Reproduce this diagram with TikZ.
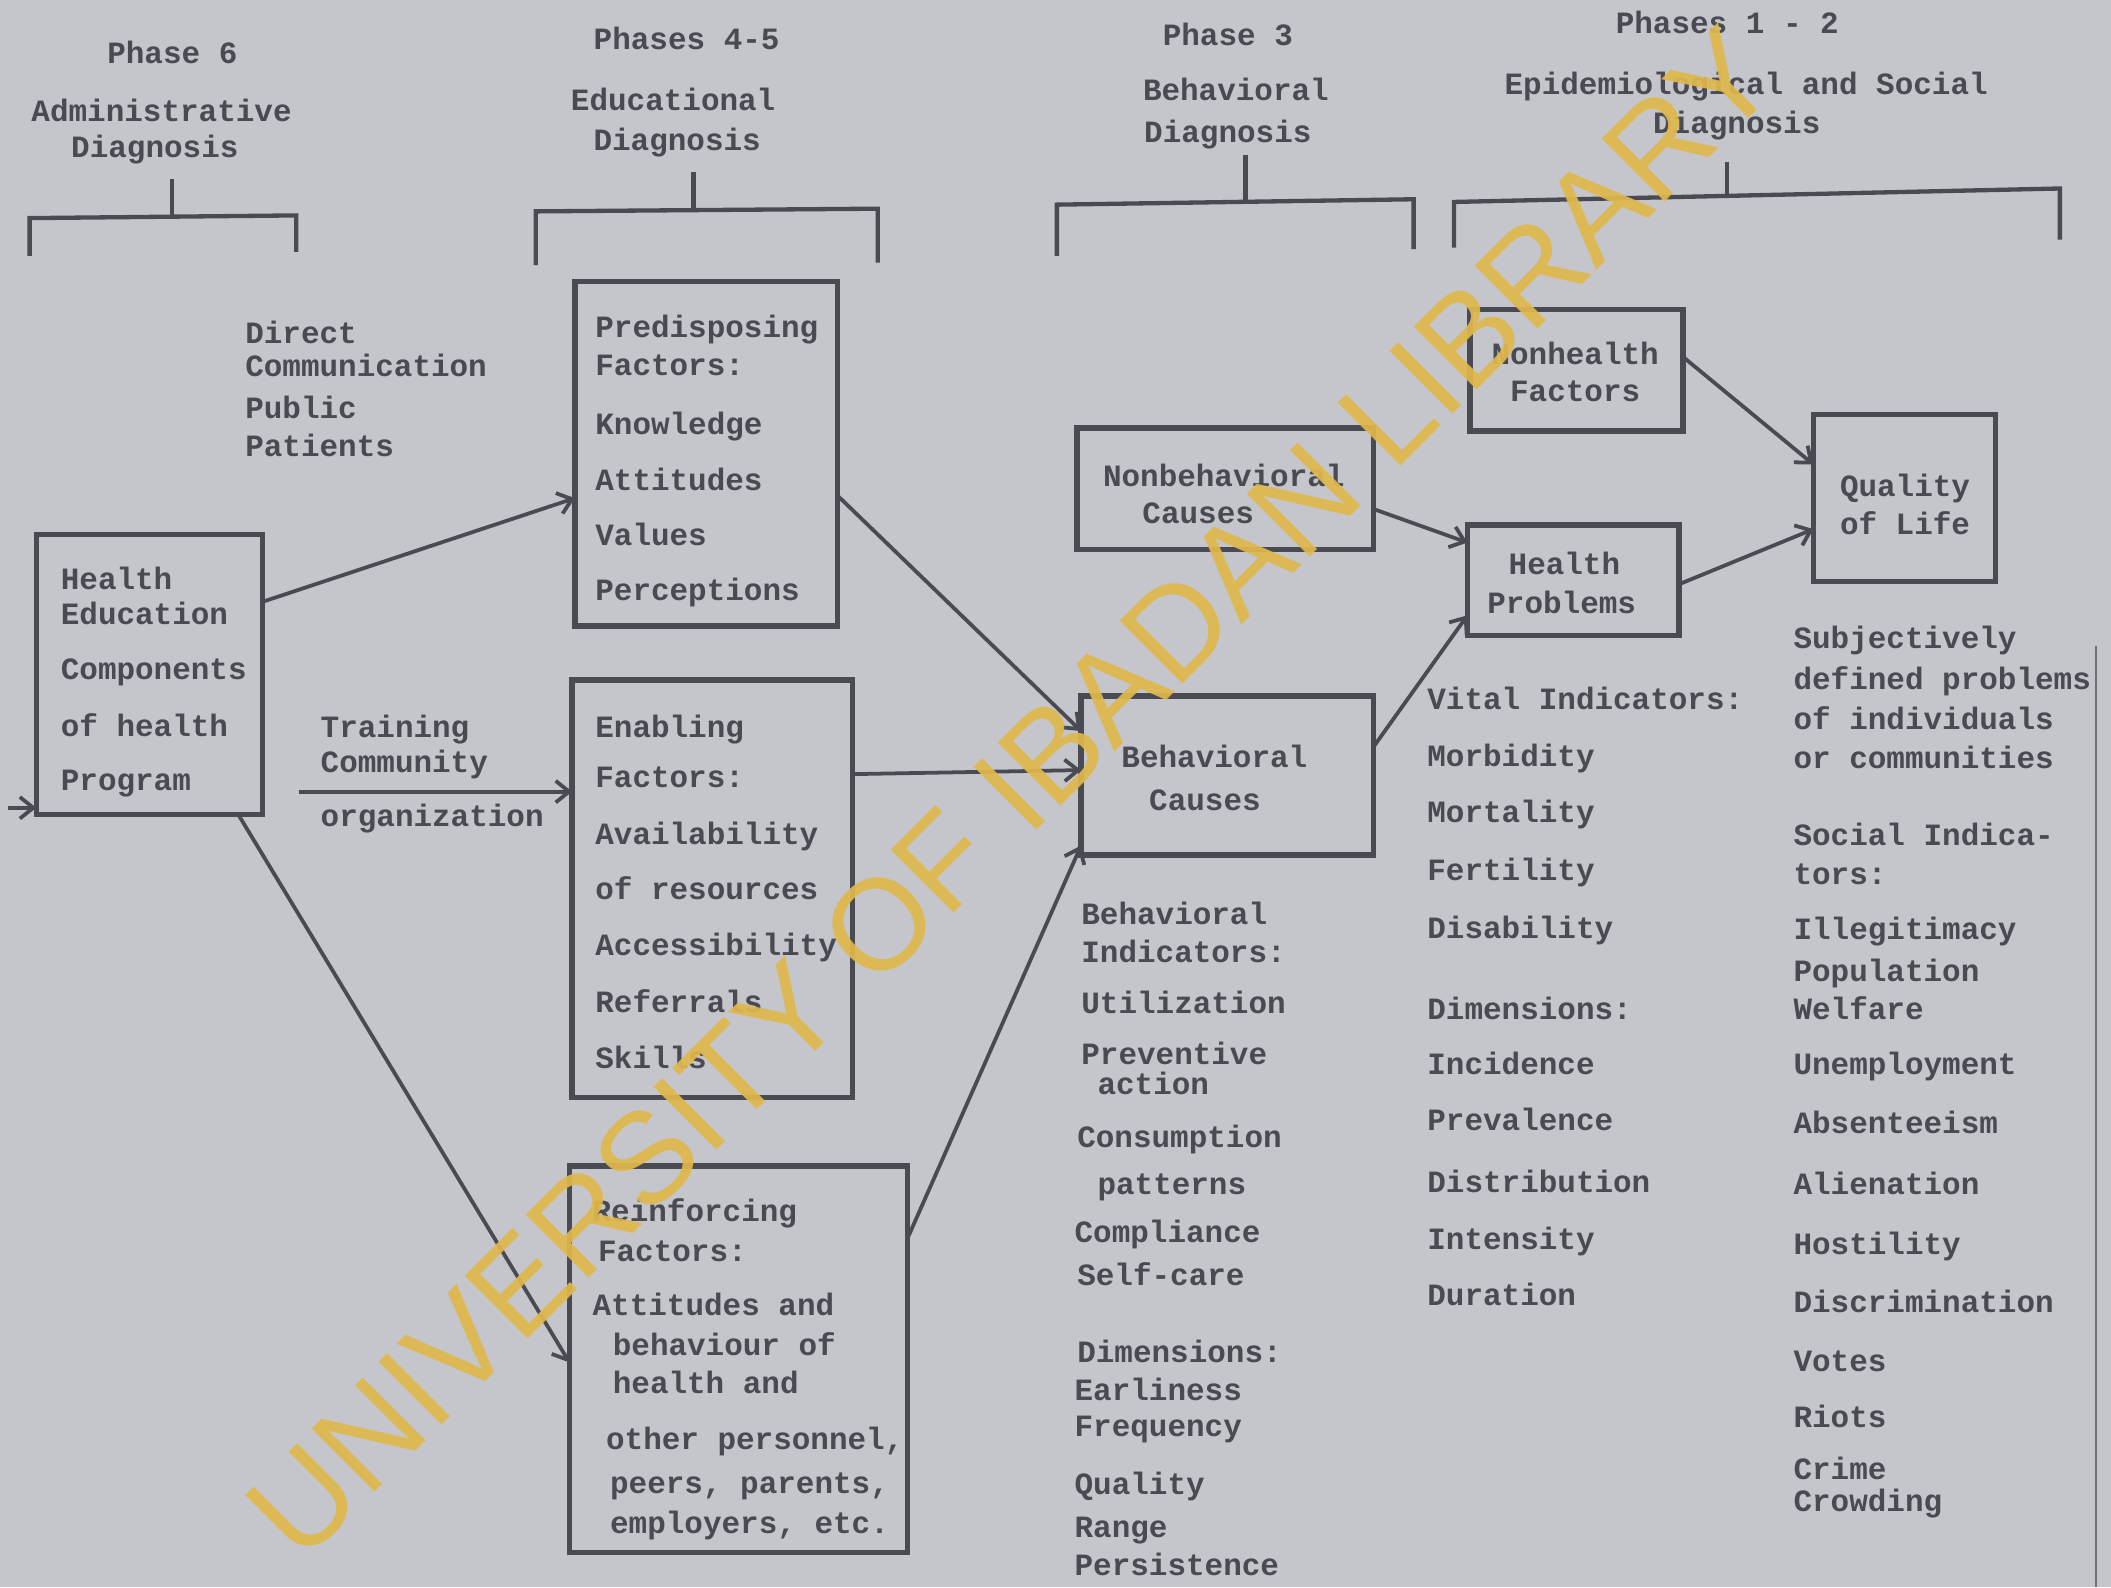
\documentclass[tikz,border=0pt]{standalone}
\usepackage{fontspec}
\usetikzlibrary{arrows.meta}
\newfontfamily\twfont{Liberation Mono}
\newfontfamily\wmfont{Liberation Sans}
\definecolor{bgc}{HTML}{C4C6CC}
\definecolor{ink}{HTML}{4A4A52}
\definecolor{wmc}{HTML}{E0B84C}
\tikzset{
  lbl/.style={font=\twfont\bfseries\fontsize{23}{27}\selectfont, text=ink, inner sep=0pt, anchor=base west},
  hdr/.style={lbl, anchor=base},
  boxst/.style={draw=ink, line width=4pt, rectangle, inner sep=0pt, outer sep=0pt},
  conn/.style={draw=ink, line width=2.8pt, -{Straight Barb[length=10pt,width=16pt]}},
  brk/.style={draw=ink, line width=3.2pt},
}
\begin{document}
\begin{tikzpicture}[x=1pt,y=-1pt]
\fill[bgc] (0,0) rectangle (1568,1179);
\useasboundingbox (0,0) rectangle (1568,1179);

% headers
\foreach \t/\x/\y [count=\i] in {Phase 6/128/40, Administrative/120/83, Diagnosis/115/110,
  Phases 4-5/510/30, Educational/500/75, Diagnosis/503/105,
  Phase 3/912/27, Behavioral/918/68, Diagnosis/912/99,
  Phases 1 - 2/1283/18, Epidemiological and Social/1297/63, Diagnosis/1290/92}
  \node[hdr] (hdr-\i) at (\x,\y+7) {\t};

% brackets
\draw[brk] (22,190) -- (22,162) -- (220,160) -- (220,187);
\draw[brk] (128,133) -- (128,161);
\draw[brk] (398,197) -- (398,157) -- (652,155) -- (652,195);
\draw[brk] (515,128) -- (515,156);
\draw[brk] (785,190) -- (785,152) -- (1050,148) -- (1050,185);
\draw[brk] (925,115) -- (925,150);
\draw[brk] (1080,184) -- (1080,150) -- (1530,140) -- (1530,178);
\draw[brk] (1283,120) -- (1283,146);

% boxes
\node[boxst, minimum width=168pt, minimum height=208pt] (he) at (111,501) {};
\node[boxst, minimum width=195pt, minimum height=256pt] (pre) at (524.5,337) {};
\node[boxst, minimum width=208pt, minimum height=310pt] (ena) at (529,660) {};
\node[boxst, minimum width=251pt, minimum height=287pt] (rei) at (548.5,1009.5) {};
\node[boxst, minimum width=220pt, minimum height=90pt] (nonbeh) at (910,363) {};
\node[boxst, minimum width=217pt, minimum height=118pt] (beh) at (911.5,576) {};
\node[boxst, minimum width=158pt, minimum height=90pt] (nonh) at (1171,275) {};
\node[boxst, minimum width=157pt, minimum height=82pt] (hp) at (1168.5,431) {};
\node[boxst, minimum width=135pt, minimum height=124pt] (qol) at (1414.5,370) {};

% box texts
\foreach \t/\x/\y [count=\i] in {Health/45/431, Education/45/457, Components/45/498, of health/45/540, Program/45/580}
  \node[lbl] (het-\i) at (\x,\y+7) {\t};
\foreach \t/\x/\y [count=\i] in {Predisposing/442/244, Factors:/442/272, Knowledge/442/316, Attitudes/442/357, Values/442/398, Perceptions/442/439}
  \node[lbl] (pret-\i) at (\x,\y+7) {\t};
\foreach \t/\x/\y [count=\i] in {Enabling/442/541, Factors:/442/578, Availability/442/620, of resources/442/661, Accessibility/442/703, Referrals/442/745, Skills/442/787}
  \node[lbl] (enat-\i) at (\x,\y+7) {\t};
\foreach \t/\x/\y [count=\i] in {Reinforcing/440/900, Factors:/444/930, Attitudes and/440/970, behaviour of/455/1000, health and/455/1028, {other personnel,}/450/1070, {peers, parents,}/453/1102, {employers, etc.}/453/1132}
  \node[lbl] (reit-\i) at (\x,\y+7) {\t};
\foreach \t/\x/\y [count=\i] in {Nonbehavioral/909/354, Causes/890/382}
  \node[hdr] (nbt-\i) at (\x,\y+7) {\t};
\foreach \t/\x/\y [count=\i] in {Behavioral/902/563, Causes/895/595}
  \node[hdr] (bt-\i) at (\x,\y+7) {\t};
\foreach \t/\x/\y [count=\i] in {Nonhealth/1170/264, Factors/1170/291}
  \node[hdr] (nht-\i) at (\x,\y+7) {\t};
\foreach \t/\x/\y [count=\i] in {Health/1162/420, Problems/1160/449}
  \node[hdr] (hpt-\i) at (\x,\y+7) {\t};
\foreach \t/\x/\y [count=\i] in {Quality/1415/362, of Life/1415/390}
  \node[hdr] (qt-\i) at (\x,\y+7) {\t};

% free texts
\foreach \t/\x/\y [count=\i] in {Direct/182/248, Communication/182/273, Public/182/304, Patients/182/332}
  \node[lbl] (dc-\i) at (\x,\y+7) {\t};
\foreach \t/\x/\y [count=\i] in {Training/238/541, Community/238/567, organization/238/607}
  \node[lbl] (tr-\i) at (\x,\y+7) {\t};
\foreach \t/\x/\y [count=\i] in {Behavioral/803/680, Indicators:/803/708, Utilization/803/746, Preventive/803/784, action/815/806, Consumption/800/845, patterns/815/880, Compliance/798/916, Self-care/800/948, Dimensions:/800/1005, Earliness/798/1033, Frequency/798/1060, Quality/798/1103, Range/798/1135, Persistence/798/1163}
  \node[lbl] (bi-\i) at (\x,\y+7) {\t};
\foreach \t/\x/\y [count=\i] in {Vital Indicators:/1060/520, Morbidity/1060/562, Mortality/1060/604, Fertility/1060/647, Disability/1060/690, Dimensions:/1060/750, Incidence/1060/791, Prevalence/1060/833, Distribution/1060/879, Intensity/1060/921, Duration/1060/963}
  \node[lbl] (vi-\i) at (\x,\y+7) {\t};
\foreach \t/\x/\y [count=\i] in {Subjectively/1332/475, defined problems/1332/505, of individuals/1332/535, or communities/1332/564, Social Indica-/1332/621, tors:/1332/650, Illegitimacy/1332/691, Population/1332/722, Welfare/1332/750, Unemployment/1332/791, Absenteeism/1332/835, Alienation/1332/880, Hostility/1332/925, Discrimination/1332/968, Votes/1332/1012, Riots/1332/1053, Crime/1332/1092, Crowding/1332/1116}
  \node[lbl] (si-\i) at (\x,\y+7) {\t};

% connectors
\coordinate (trs) at (222,588);
\coordinate (lefts) at (6,600);
\draw[conn] (he.east |- 0,447) -- (pre.west |- 0,370);
\draw[conn] (trs) -- (ena.west |- 0,588);
\draw[conn] (he.south -| 177,0) -- (rei.west |- 0,1012);
\draw[conn] (lefts) -- (he.west |- 0,600);
\draw[conn] (pre.east |- 0,368) -- (beh.west |- 0,543);
\draw[conn] (ena.east |- 0,575) -- (beh.west |- 0,572);
\draw[conn] (rei.east |- 0,920) -- (beh.west |- 0,628);
\draw[conn] (nonbeh.east |- 0,378) -- (hp.west |- 0,403);
\draw[conn] (beh.east |- 0,555) -- (hp.west |- 0,457);
\draw[conn] (nonh.east |- 0,265) -- (qol.west |- 0,345);
\draw[conn] (hp.east |- 0,434) -- (qol.west |- 0,393);

% page edge
\draw[ink!80, line width=1.5pt] (1557,480) -- (1557,1179);

% watermark
\node[font=\wmfont\fontsize{96}{100}\selectfont, text=wmc, text opacity=0.92, rotate=45, inner sep=0pt] (watermark) at (751,589) {UNIVERSITY OF IBADAN LIBRARY};
\end{tikzpicture}
\end{document}
